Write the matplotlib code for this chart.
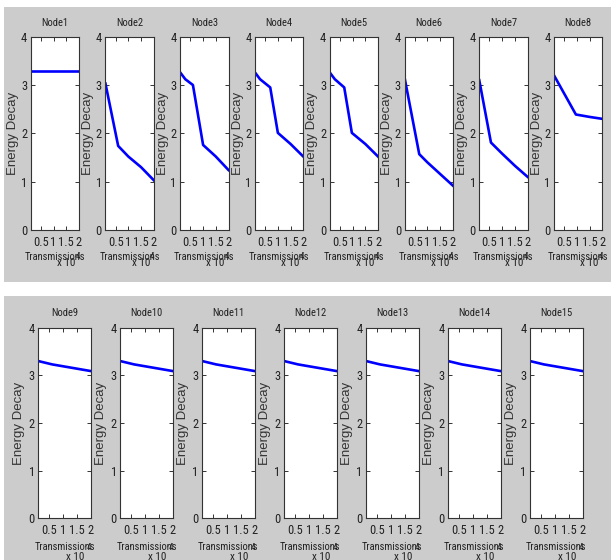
import matplotlib
matplotlib.use('Agg')
import matplotlib.pyplot as plt
from matplotlib.patches import Rectangle

W, H = 611, 560

# energy decay per node, transmissions in units of 10^4
node1_x = [0.1, 2.0]
node1_y = [3.30, 3.30]
node2_x = [0.1, 0.6, 1.0, 1.5, 2.0]
node2_y = [3.03, 1.74, 1.52, 1.30, 1.03]
node3_x = [0.1, 0.3, 0.6, 1.0, 1.5, 2.0]
node3_y = [3.26, 3.12, 3.00, 1.76, 1.52, 1.24]
node4_x = [0.1, 0.3, 0.7, 1.0, 1.5, 2.0]
node4_y = [3.26, 3.12, 2.95, 2.01, 1.78, 1.52]
node5_x = [0.1, 0.3, 0.67, 0.97, 1.5, 2.0]
node5_y = [3.26, 3.12, 2.95, 2.01, 1.78, 1.52]
node6_x = [0.1, 0.68, 1.0, 1.5, 2.0]
node6_y = [3.16, 1.57, 1.40, 1.16, 0.92]
node7_x = [0.1, 0.56, 1.0, 1.5, 2.0]
node7_y = [3.10, 1.81, 1.58, 1.33, 1.10]
node8_x = [0.1, 0.96, 1.5, 2.0]
node8_y = [3.20, 2.39, 2.34, 2.30]
flat_x = [0.1, 0.6, 1.0, 1.5, 2.0]
flat_y = [3.30, 3.23, 3.19, 3.14, 3.09]

top_names = ['Node1', 'Node2', 'Node3', 'Node4', 'Node5', 'Node6', 'Node7', 'Node8']
top_x = [node1_x, node2_x, node3_x, node4_x, node5_x, node6_x, node7_x, node8_x]
top_y = [node1_y, node2_y, node3_y, node4_y, node5_y, node6_y, node7_y, node8_y]
bottom_names = ['Node9', 'Node10', 'Node11', 'Node12', 'Node13', 'Node14', 'Node15']

x_ticks = [0.5, 1, 1.5, 2]
x_ticklabels = ['0.5', '1', '1.5', '2']
y_ticks = [0, 1, 2, 3, 4]

NARROW = ['Roboto Condensed', 'Liberation Sans', 'DejaVu Sans']
REG = ['Liberation Sans', 'DejaVu Sans']
TXT = '#222222'

fig = plt.figure(figsize=(W / 100, H / 100), dpi=100)
fig.patch.set_facecolor('white')

def fx(x):
	return x / W

def fy(y):
	return 1 - y / H

# gray panels
fig.patches.append(Rectangle((fx(4), fy(282)), fx(607), (282 - 7) / H, transform=fig.transFigure, facecolor='#cccccc', edgecolor='none', zorder=-5))
fig.patches.append(Rectangle((fx(4), fy(560)), fx(607), (560 - 296) / H, transform=fig.transFigure, facecolor='#cccccc', edgecolor='none', zorder=-5))

def node_axes(left, top, width, height, name, xs, ys, label_y, x10_y, sup_y, title_y, ylab_dx, x10_dx):
	ax = fig.add_axes([fx(left), fy(top + height), width / W, height / H])
	ax.plot(xs, ys, color='#0000ff', lw=1.9)
	ax.set_xlim(0.1, 2)
	ax.set_ylim(0, 4)
	ax.set_xticks(x_ticks)
	ax.set_xticklabels(x_ticklabels, family=NARROW, fontsize=9, color=TXT)
	ax.set_yticks(y_ticks)
	ax.set_yticklabels([str(v) for v in y_ticks], family=NARROW, fontsize=9, color=TXT)
	ax.tick_params(direction='in', length=3, width=0.7, top=True, right=True, pad=2.5, colors='#333333', labelcolor=TXT)
	ax.tick_params(axis='x', pad=4)
	for s in ax.spines.values():
		s.set_color('#333333')
		s.set_linewidth(0.8)
	cx = left + width / 2
	fig.text(fx(cx), fy(title_y), name, ha='center', va='center', family=NARROW, fontsize=7.6, color=TXT)
	fig.text(fx(cx), fy(label_y), 'Transmissions', ha='center', va='center', family=NARROW, fontsize=7.6, color=TXT)
	fig.text(fx(left + width + x10_dx), fy(x10_y), 'x 10', ha='right', va='center', family=NARROW, fontsize=8, color=TXT)
	fig.text(fx(left + width - 1.5), fy(sup_y), '4', ha='center', va='center', family=NARROW, fontsize=6.5, color=TXT)
	fig.text(fx(left + ylab_dx), fy(top + height / 2), 'Energy Decay', ha='center', va='center', rotation=90, family=REG, fontsize=9.5, color='#333333')
	return ax

for i in range(8):
	node_axes(30.7 + i * 74.76, 36.7, 48.3, 193.3, top_names[i], top_x[i], top_y[i],
		257, 262.5, 256.5, 23, -17.4, -3.7)

for i in range(7):
	node_axes(38.3 + i * 81.95, 327.7, 52.5, 190.6, bottom_names[i], flat_x, flat_y,
		547.5, 557, 548, 313, -19, -6)

fig.savefig('out.png', dpi=100)
